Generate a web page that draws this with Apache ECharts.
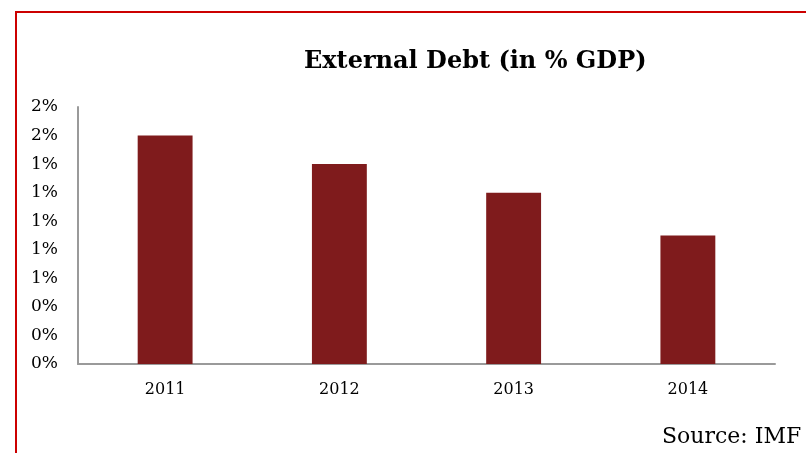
<!DOCTYPE html>
<html>
<head>
<meta charset="utf-8">
<script src="https://cdn.jsdelivr.net/npm/echarts@6/dist/echarts.min.js"></script>
<style>
html,body{margin:0;padding:0;background:#fff;}
#main{width:806px;height:453px;}
</style>
</head>
<body>
<div id="main"></div>
<script>
// External debt, % of GDP
var years = ['2011', '2012', '2013', '2014'];
var debtValues = [1.6, 1.4, 1.2, 0.9];
var yTicks = {min: 0, max: 1.8, step: 0.2};

var myChart = echarts.init(document.getElementById('main'));
var serif = '"DejaVu Serif", "Liberation Serif", serif';

myChart.setOption({
    backgroundColor: '#fff',
    animation: false,
    title: {
        text: 'External Debt (in % GDP)',
        left: 299,
        top: 45,
        textStyle: {fontFamily: serif, fontSize: 24, fontWeight: 'bold', color: '#000'}
    },
    grid: {left: 78, right: 31, top: 107, bottom: 89},
    xAxis: {
        type: 'category',
        data: years,
        axisLine: {lineStyle: {color: '#9a9a9a', width: 2}},
        axisTick: {show: false},
        axisLabel: {fontFamily: serif, fontSize: 16, color: '#000', margin: 18}
    },
    yAxis: {
        type: 'value',
        min: yTicks.min,
        max: yTicks.max,
        interval: yTicks.step,
        splitLine: {show: false},
        axisLine: {show: true, lineStyle: {color: '#9a9a9a', width: 2}},
        axisTick: {show: false},
        axisLabel: {
            fontFamily: serif, fontSize: 17, color: '#000', margin: 20,
            formatter: function (v) { return Math.round(v) + '%'; }
        }
    },
    series: [{
        type: 'bar',
        data: debtValues,
        barWidth: '31.5%',
        itemStyle: {color: '#7f1b1c'}
    }],
    graphic: [
        {
            type: 'rect',
            shape: {x: 16, y: 12, width: 840, height: 520},
            style: {fill: 'none', stroke: '#cc0000', lineWidth: 2}
        },
        {
            type: 'text',
            left: 662,
            top: 426,
            style: {text: 'Source: IMF', fontFamily: serif, fontSize: 22, fill: '#000'}
        }
    ]
});
</script>
</body>
</html>
